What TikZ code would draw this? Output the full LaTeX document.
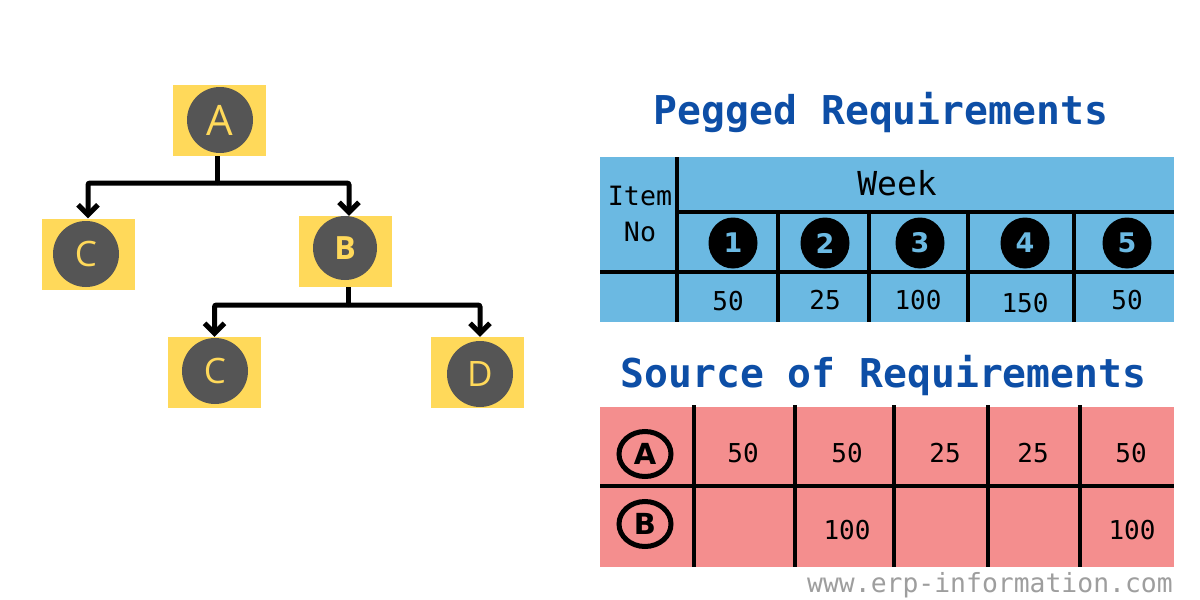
\documentclass[tikz,border=0pt]{standalone}
\usepackage{fontspec}
\usetikzlibrary{arrows.meta,shapes.geometric}
\newfontfamily\monof{DejaVu Sans Mono}
\newfontfamily\treef{Open Sans}
\newfontfamily\numf{DejaVu Sans}
\definecolor{ybox}{HTML}{FFD95A}
\definecolor{gcirc}{HTML}{555555}
\definecolor{tblue}{HTML}{6BB9E2}
\definecolor{tpink}{HTML}{F48E8E}
\definecolor{ttitle}{HTML}{0D4EA6}
\definecolor{wgray}{HTML}{9E9E9E}
\begin{document}
\begin{tikzpicture}[x=1pt,y=-1pt,
  yboxst/.style={fill=ybox, minimum width=93pt, minimum height=71pt, inner sep=0pt},
  gcircle/.style={circle, fill=gcirc, minimum size=66pt, inner sep=0pt, text=ybox,
    font=\treef\fontsize{35}{35}\selectfont},
  treeline/.style={line width=5pt, rounded corners=2pt},
  tarrow/.style={treeline, -{Straight Barb[length=10pt,width=20pt]}},
  tline/.style={line width=4.5pt},
  title/.style={anchor=base, inner sep=0pt, text=ttitle, font=\monof\bfseries\fontsize{39.7}{40}\selectfont},
  num/.style={anchor=base, inner sep=0pt, font=\monof\fontsize{26}{26}\selectfont},
  wkcirc/.style={ellipse, fill=black, minimum width=49pt, minimum height=51pt, inner sep=0pt,
    text=tblue, font=\numf\bfseries\fontsize{27}{27}\selectfont},
  srccirc/.style={ellipse, draw=black, line width=5pt, minimum width=52pt, minimum height=45pt,
    inner sep=0pt, font=\numf\bfseries\fontsize{29}{29}\selectfont}
]
\useasboundingbox (0,0) rectangle (1200,600);
\fill[white] (0,0) rectangle (1200,600);

% ---------- tree ----------
\node[yboxst] (boxA) at (219.5,120.5) {};
\node[gcircle, font=\treef\fontsize{42}{42}\selectfont] (cA) at (220,120) {A};
\node[yboxst] (boxCl) at (88,254) {};
\node[gcircle] (cCl) at (86,254) {C};
\node[yboxst] (boxB) at (345,251.5) {};
\node[gcircle, minimum size=64pt, font=\treef\bfseries\fontsize{32}{32}\selectfont] (cB) at (345,248) {B};
\node[yboxst] (boxCb) at (214.5,372.5) {};
\node[gcircle] (cCb) at (215,371) {C};
\node[yboxst] (boxD) at (477.5,372.5) {};
\node[gcircle] (cD) at (480,374) {D};

\coordinate (jA) at (217,183);
\coordinate (jB) at (348,305);
\draw[treeline] (jA |- boxA.south) -- (jA);
\draw[tarrow] (jA) -| (boxCl.north);
\draw[tarrow] (jA) -| ([xshift=4pt]boxB.north);
\draw[treeline] (jB |- boxB.south) -- (jB);
\draw[tarrow] (jB) -| (boxCb.north);
\draw[tarrow] (jB) -| ([xshift=2.5pt]boxD.north);

% ---------- pegged requirements ----------
\node[title] (t1) at (881,124) {Pegged Requirements};
\fill[tblue] (600,157) rectangle (1174,322);
\draw[tline] (677,157) -- (677,322);
\draw[tline] (677,212) -- (1174,212);
\draw[tline] (600,272) -- (1174,272);
\foreach \x in {778,869,968,1074} \draw[tline] (\x,212) -- (\x,322);

\node[num, font=\monof\fontsize{26.6}{27}\selectfont] (item) at (640,205) {Item};
\node[num, font=\monof\fontsize{26.6}{27}\selectfont] (no) at (640,241) {No};
\node[num, font=\monof\fontsize{33}{33}\selectfont] (week) at (897,195) {Week};

\node[wkcirc] (w1) at (733,243) {1};
\node[wkcirc] (w2) at (825,243) {2};
\node[wkcirc] (w3) at (920,243) {3};
\node[wkcirc] (w4) at (1025,243) {4};
\node[wkcirc] (w5) at (1127,243) {5};

\node[num] (p1) at (728,310) {50};
\node[num] (p2) at (825,309) {25};
\node[num] (p3) at (918,309) {100};
\node[num] (p4) at (1025,312) {150};
\node[num] (p5) at (1127,309) {50};

% ---------- source of requirements ----------
\node[title] (t2) at (883.5,387) {Source of Requirements};
\fill[tpink] (600,407) rectangle (1174,567);
\draw[tline] (600,486) -- (1174,486);
\foreach \x in {694,795,894,988,1080} \draw[tline] (\x,405) -- (\x,567);

\node[srccirc] (sA) at (645,454) {A};
\node[srccirc] (sB) at (645,524) {B};

\node[num] (a1) at (743,462) {50};
\node[num] (a2) at (847,462) {50};
\node[num] (a3) at (945,462) {25};
\node[num] (a4) at (1033,462) {25};
\node[num] (a5) at (1131,462) {50};
\node[num] (b2) at (847,539) {100};
\node[num] (b5) at (1132,539) {100};

% ---------- watermark ----------
\node[anchor=base west, inner sep=0pt, text=wgray, font=\monof\fontsize{26.4}{27}\selectfont] (wm) at (807,592) {www.erp-information.com};
\end{tikzpicture}
\end{document}
